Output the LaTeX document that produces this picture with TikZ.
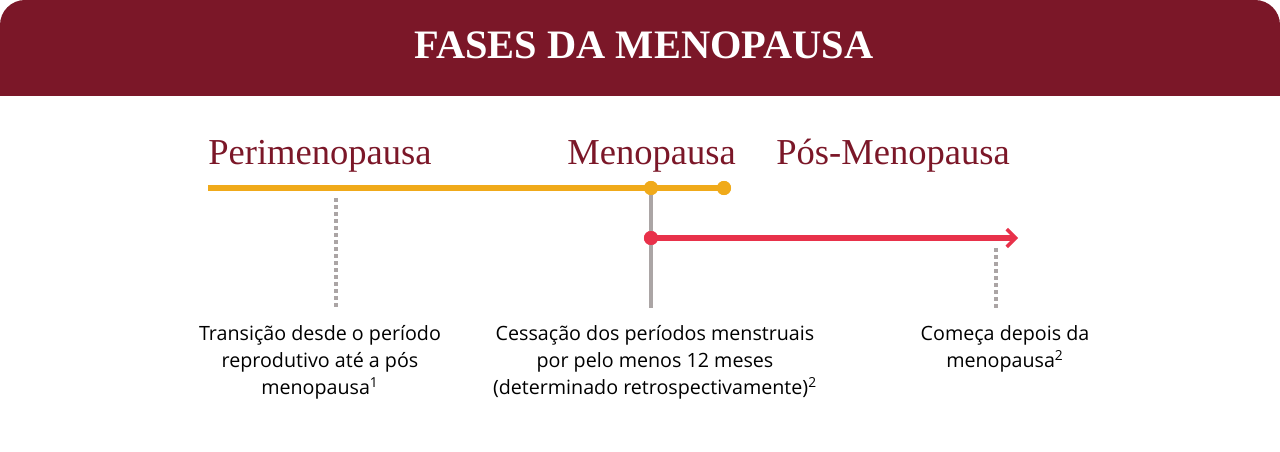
\documentclass[tikz,border=0pt]{standalone}
\usepackage{fontspec}
\setmainfont{Liberation Serif}
\newfontfamily\bodyfont{Open Sans}
\usetikzlibrary{arrows.meta}
\definecolor{wine}{HTML}{7B1728}
\definecolor{gold}{HTML}{F0AA1A}
\definecolor{rose}{HTML}{E8314A}
\definecolor{greyl}{HTML}{ABA5A5}
\tikzset{
 phase/.style={text=wine,font=\fontsize{20.8}{22}\selectfont,anchor=base west,inner sep=0},
 desc/.style={font=\bodyfont\fontsize{11.2}{15.3}\selectfont,align=center,anchor=north,inner sep=0},
 dotpt/.style={circle,inner sep=0,minimum size=8pt},
 dotline/.style={greyl,line width=2pt,dash pattern=on 2pt off 2pt}
}
\begin{document}
\begin{tikzpicture}[x=0.02cm,y=-0.02cm]
\useasboundingbox (0,0) rectangle (1280,452);
\fill[wine] (0,96) {[rounded corners=0.5cm] -- (0,0) -- (1280,0)} -- (1280,96) -- cycle;
\node[text=white,font=\bfseries\fontsize{23}{26}\selectfont] (title) at (644,45) {FASES DA MENOPAUSA};
\node[phase] (peri) at (208,165) {Perimenopausa};
\node[phase] (meno) at (567,165) {Menopausa};
\node[phase] (pos) at (776,165) {Pós-Menopausa};
\coordinate (ys) at (208,188);
\node[dotpt,fill=gold] (y1) at (651,188) {};
\node[dotpt,fill=gold] (y2) at (724,188) {};
\node[dotpt,fill=rose] (r1) at (651,238) {};
\coordinate (re) at (1018,238);
\coordinate (gb) at (651,308);
\coordinate (d1t) at (336,198); \coordinate (d1b) at (336,308);
\coordinate (d2t) at (996,248); \coordinate (d2b) at (996,308);
\draw[greyl,line width=2.5pt] (y1.center) -- (gb);
\draw[gold,line width=3pt] (ys) -- (y2.center);
\node[dotpt,fill=gold] at (651,188) {};
\node[dotpt,fill=gold] at (724,188) {};
\draw[rose,line width=3pt,-{Straight Barb[length=5pt,width=10pt,line width=2pt]}] (r1.center) -- (re);
\node[dotpt,fill=rose] at (651,238) {};
\draw[dotline] (d1t) -- (d1b);
\draw[dotline] (d2t) -- (d2b);
\node[desc] (t1) at (320,325) {Transição desde o período\\reprodutivo até a pós\\menopausa\textsuperscript{1}};
\node[desc] (t2) at (655,325) {Cessação dos períodos menstruais\\por pelo menos 12 meses\\(determinado retrospectivamente)\textsuperscript{2}};
\node[desc] (t3) at (1005,325) {Começa depois da\\menopausa\textsuperscript{2}};
\end{tikzpicture}
\end{document}
